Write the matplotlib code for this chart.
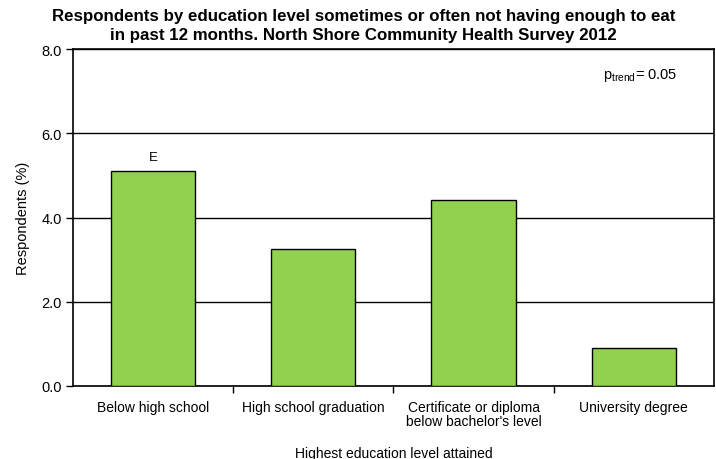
import matplotlib
matplotlib.use("Agg")
import matplotlib.pyplot as plt

categories = ["Below high school", "High school graduation",
              "Certificate or diploma\nbelow bachelor's level", "University degree"]
values = [5.1, 3.25, 4.42, 0.9]
bar_flags = ["E", "", "", ""]
yticks = [0.0, 2.0, 4.0, 6.0, 8.0]

plt.rcParams['font.family'] = ['Liberation Sans', 'DejaVu Sans']
plt.rcParams['mathtext.fontset'] = 'custom'
plt.rcParams['mathtext.rm'] = 'Liberation Sans'
plt.rcParams['mathtext.it'] = 'Liberation Sans'

fig = plt.figure(figsize=(7.16, 4.6), dpi=100)
ax = fig.add_axes([0.102, 0.159, 0.895, 0.732])

x = list(range(len(categories)))
ax.bar(x, values, width=0.525, color='#92D050', edgecolor='black', linewidth=1.0, zorder=3)
for xi, v, f in zip(x, values, bar_flags):
    if f:
        ax.text(xi, v + 0.2, f, ha='center', va='bottom', fontsize=9.5)

ax.set_xlim(-0.5, 3.5)
ax.set_ylim(0, 8)
ax.set_yticks(yticks)
ax.set_yticklabels([f"{t:.1f}" for t in yticks], fontsize=10.5)
ax.yaxis.grid(True, color='black', linewidth=1.0, zorder=0)
ax.set_xticks(x)
ax.set_xticklabels(categories, fontsize=10, linespacing=1.0)
ax.tick_params(axis='x', which='major', length=0, pad=10)
ax.set_xticks([0.5, 1.5, 2.5], minor=True)
ax.tick_params(axis='x', which='minor', length=5, width=1, direction='out')
ax.tick_params(axis='y', length=5, width=1, direction='out', pad=3)
for s in ax.spines.values():
    s.set_linewidth(1.2)
    s.set_color('black')

ax.set_ylabel("Respondents (%)", fontsize=10.5, labelpad=8)
ax.set_xlabel("Highest education level attained", fontsize=10, labelpad=13)

ax.text(0.885, 0.926, r"p$_{\mathrm{ trend}}$= 0.05", transform=ax.transAxes,
        ha='center', va='center', fontsize=10.5)

fig.suptitle("Respondents by education level sometimes or often not having enough to eat\n"
             "in past 12 months. North Shore Community Health Survey 2012",
             x=0.508, y=0.98, fontsize=12.2, fontweight='bold', linespacing=1.3)

fig.savefig("out.png", dpi=100)
